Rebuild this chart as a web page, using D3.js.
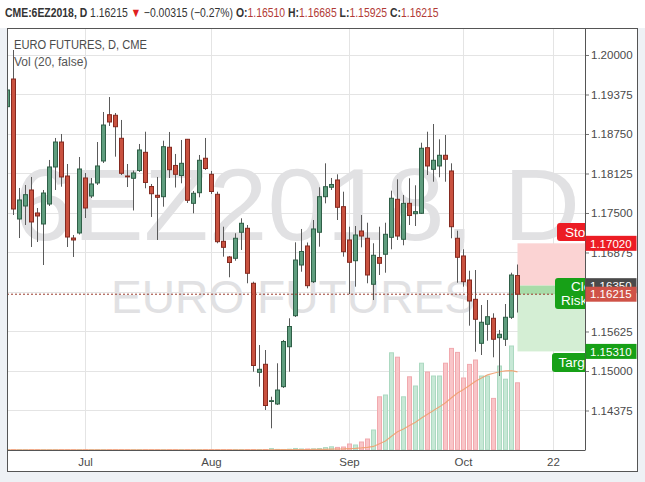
<!DOCTYPE html>
<html><head><meta charset="utf-8">
<script src="https://cdn.jsdelivr.net/npm/d3@7"></script>
<style>
html,body{margin:0;padding:0;background:#fff;}
svg{display:block;font-family:"Liberation Sans",Arial,sans-serif;}
</style></head><body>
<svg id="c" width="645" height="482"></svg>
<script>
// ---------------- DATA ----------------
const dates = [
"2018-06-13","2018-06-14","2018-06-15","2018-06-18","2018-06-19","2018-06-20","2018-06-21","2018-06-22","2018-06-25","2018-06-26","2018-06-27","2018-06-28","2018-06-29",
"2018-07-02","2018-07-03","2018-07-05","2018-07-06","2018-07-09","2018-07-10","2018-07-11","2018-07-12","2018-07-13","2018-07-16","2018-07-17","2018-07-18","2018-07-19","2018-07-20","2018-07-23","2018-07-24","2018-07-25","2018-07-26","2018-07-27","2018-07-30","2018-07-31",
"2018-08-01","2018-08-02","2018-08-03","2018-08-06","2018-08-07","2018-08-08","2018-08-09","2018-08-10","2018-08-13","2018-08-14","2018-08-15","2018-08-16","2018-08-17","2018-08-20","2018-08-21","2018-08-22","2018-08-23","2018-08-24","2018-08-27","2018-08-28","2018-08-29","2018-08-30","2018-08-31",
"2018-09-04","2018-09-05","2018-09-06","2018-09-07","2018-09-10","2018-09-11","2018-09-12","2018-09-13","2018-09-14","2018-09-17","2018-09-18","2018-09-19","2018-09-20","2018-09-21","2018-09-24","2018-09-25","2018-09-26","2018-09-27","2018-09-28",
"2018-10-01","2018-10-02","2018-10-03","2018-10-04","2018-10-05","2018-10-08","2018-10-09","2018-10-10","2018-10-11","2018-10-12"];
const futureDates = ["2018-10-15","2018-10-16","2018-10-17","2018-10-18","2018-10-19","2018-10-22","2018-10-23","2018-10-24","2018-10-25","2018-10-26"];

const open = [1.19182,1.19620,1.17405,1.17611,1.17864,1.17500,1.17326,1.17642,1.18228,1.18623,1.18085,1.17104,1.17184,
1.18054,1.17769,1.17975,1.18323,1.19055,1.19046,1.18682,1.18085,1.18049,1.18172,1.18460,1.17919,1.17780,1.17758,1.18540,1.18252,1.18093,1.18666,1.17653,1.17821,1.18366,
1.18112,1.17796,1.17052,1.16804,1.16783,1.17195,1.17258,1.16388,1.14979,1.15106,1.14530,1.14478,1.14752,1.15384,1.15875,1.16677,1.16978,1.16413,1.17195,1.17758,1.17907,1.18022,1.17600,
1.17073,1.16745,1.17215,1.17100,1.16372,1.16796,1.16847,1.17115,1.17717,1.17084,1.17653,1.17489,1.17495,1.18533,1.18191,1.18244,1.18413,1.18165,1.17100,
1.16820,1.16440,1.16134,1.15438,1.15739,1.15834,1.15527,1.15502,1.15850,1.16510];
const high = [1.19578,1.20079,1.17896,1.17943,1.18070,1.17579,1.17864,1.18339,1.18687,1.18750,1.18275,1.17152,1.18386,
1.18133,1.18054,1.18623,1.19098,1.19335,1.19082,1.18972,1.18275,1.18172,1.18592,1.18786,1.17959,1.18070,1.18644,1.18782,1.18434,1.18655,1.18671,1.17848,1.18418,1.18687,
1.18165,1.17837,1.17283,1.16820,1.17179,1.17416,1.17310,1.16413,1.15411,1.15332,1.14593,1.15122,1.15491,1.15834,1.17036,1.17247,1.17033,1.17389,1.17907,1.18286,1.18054,1.18112,1.17837,
1.17283,1.17294,1.17468,1.17346,1.17021,1.17283,1.17346,1.17853,1.18033,1.17785,1.18049,1.17938,1.18612,1.18786,1.18908,1.18666,1.18734,1.18286,1.17220,
1.16926,1.16587,1.16598,1.16044,1.16123,1.15913,1.15649,1.16060,1.16555,1.16685];
const low = [1.19051,1.17468,1.17104,1.17310,1.16962,1.17041,1.16677,1.17611,1.17864,1.17916,1.16962,1.16804,1.17160,
1.17421,1.17737,1.17943,1.18291,1.18877,1.18391,1.18101,1.17911,1.17540,1.18149,1.17891,1.17437,1.17073,1.17600,1.18054,1.17903,1.17970,1.17658,1.17495,1.17748,1.18180,
1.17801,1.17021,1.16809,1.16483,1.16745,1.16915,1.16388,1.14989,1.14752,1.14383,1.14093,1.14462,1.14731,1.14989,1.15854,1.16571,1.16308,1.16392,1.16967,1.17653,1.17864,1.17389,1.16809,
1.16218,1.16334,1.16957,1.16388,1.16123,1.16519,1.16555,1.16926,1.17073,1.16989,1.17310,1.17294,1.17484,1.18101,1.17995,1.18065,1.17995,1.17100,1.16397,
1.16334,1.15717,1.15305,1.15253,1.15479,1.15217,1.14921,1.15396,1.15823,1.15925];
const close = [1.19446,1.17563,1.17706,1.17790,1.17358,1.17453,1.17816,1.18228,1.18623,1.18070,1.17120,1.17073,1.18196,
1.17579,1.17959,1.18244,1.18892,1.18940,1.18865,1.18128,1.18077,1.18133,1.18497,1.17983,1.17805,1.17748,1.18549,1.18185,1.18112,1.18286,1.17701,1.17812,1.18334,1.18204,
1.17840,1.17046,1.16957,1.16717,1.17100,1.17337,1.16546,1.15087,1.15027,1.14454,1.14530,1.14699,1.15467,1.15704,1.16756,1.16891,1.16350,1.17247,1.17758,1.17916,1.17951,1.17590,1.16888,
1.16720,1.17152,1.17136,1.16519,1.16831,1.16704,1.17163,1.17733,1.17136,1.17653,1.17460,1.17521,1.18524,1.18244,1.18334,1.18413,1.18350,1.17283,1.16799,
1.16413,1.16108,1.15818,1.15771,1.15859,1.15502,1.15581,1.15850,1.16519,1.16215];
const volume = [300,450,350,300,320,280,300,260,300,310,330,290,350,
300,250,280,320,340,330,360,310,300,320,350,330,360,340,380,350,400,380,420,450,430,
460,500,480,520,550,600,640,800,900,1200,3500,1500,1300,2000,3800,2600,2500,2800,3500,6000,8000,6500,7500,
15000,12500,20000,27500,50000,133000,137500,243000,232000,133000,183000,160000,217000,195000,185000,185000,217000,254000,244000,
180000,214000,225000,185000,185000,129000,210000,177000,260000,168000];

const priceTicks = [1.14375,1.15000,1.15625,1.16250,1.16875,1.17500,1.18125,1.18750,1.19375,1.20000];
const timeTickDates = ["2018-07-02","2018-08-01","2018-09-04","2018-10-01","2018-10-22"];
const timeTickLabels = ["Jul","Aug","Sep","Oct","22"];
const lastPrice = 1.16215;
const entryPrice = 1.16350;
const stopPrice = 1.17020;
const targetPrice = 1.15310;
const volMaLength = 20;

// ---------------- LAYOUT ----------------
const P = {l:7, r:585, t:28, b:450};
const svg = d3.select("#c");
const allDates = dates.concat(futureDates);
const x = d3.scaleBand().domain(allDates).range([4.5, 4.5 + 6*allDates.length]).padding(0);
const xc = d => x(d) + x.bandwidth()/2;
const y = d3.scaleLinear().domain([1.13750, 1.20427]).range([P.b, P.t]);
const yv = d3.scaleLinear().domain([0, 400000]).range([P.b, P.b - 160]);

// backgrounds
svg.append("rect").attr("x",0).attr("y",0).attr("width",645).attr("height",482).attr("fill","#ffffff");
svg.append("rect").attr("x",0).attr("y",28).attr("width",645).attr("height",454).attr("fill","#eef1f5");
svg.append("rect").attr("x",7).attr("y",28).attr("width",631).attr("height",444).attr("fill","#ffffff");

const defs = svg.append("defs");
defs.append("clipPath").attr("id","plotclip").append("rect")
  .attr("x",P.l).attr("y",P.t).attr("width",P.r-P.l).attr("height",P.b-P.t);

const plot = svg.append("g").attr("clip-path","url(#plotclip)");

// grid
plot.append("g").selectAll("line").data(timeTickDates).join("line")
  .attr("x1",d=>xc(d)).attr("x2",d=>xc(d)).attr("y1",P.t).attr("y2",P.b)
  .attr("stroke","#e4e4e4").attr("stroke-width",1);
plot.append("g").selectAll("line").data(priceTicks).join("line")
  .attr("x1",P.l).attr("x2",P.r).attr("y1",d=>Math.round(y(d))+0.5).attr("y2",d=>Math.round(y(d))+0.5)
  .attr("stroke","#e4e4e4").attr("stroke-width",1);

// watermark
plot.append("text").attr("x",297).attr("y",240).attr("text-anchor","middle")
  .attr("font-size",102).attr("textLength",566).attr("lengthAdjust","spacingAndGlyphs")
  .attr("fill","#e1e1e3").text("6EZ2018, D");
plot.append("text").attr("x",293).attr("y",313).attr("text-anchor","middle")
  .attr("font-size",46).attr("textLength",364).attr("lengthAdjust","spacingAndGlyphs")
  .attr("fill","#e1e1e3").text("EURO FUTURES");

// volume
const idx = d3.range(dates.length);
plot.append("g").selectAll("rect").data(idx).join("rect")
  .attr("x",i=>xc(dates[i])-2.5+0.5).attr("width",4)
  .attr("y",i=>yv(volume[i])).attr("height",i=>P.b-yv(volume[i]))
  .attr("fill",i=>close[i]>=open[i] ? "#c7e8d6" : "#f9c5c8")
  .attr("stroke",i=>close[i]>=open[i] ? "#acd9c1" : "#f1a9ae").attr("stroke-width",1);
const ma = idx.map(i=>{ const s = Math.max(0,i-volMaLength+1); return d3.mean(volume.slice(s,i+1)); });
plot.append("path").datum(idx)
  .attr("d", d3.line().x(i=>xc(dates[i])).y(i=>yv(ma[i])))
  .attr("fill","none").attr("stroke","#f0a070").attr("stroke-width",1.2).attr("stroke-opacity",0.9);
plot.append("line").attr("x1",P.l).attr("x2",xc(dates[0])).attr("y1",yv(ma[0])).attr("y2",yv(ma[0]))
  .attr("stroke","#f0a070").attr("stroke-width",1.2);

// position tool zones
const zx = xc(dates[dates.length-1]);
plot.append("rect").attr("x",zx).attr("width",P.r-zx).attr("y",y(stopPrice)).attr("height",y(entryPrice)-y(stopPrice)).attr("fill","#fbd3d3");
plot.append("rect").attr("x",zx).attr("width",P.r-zx).attr("y",y(entryPrice)).attr("height",y(targetPrice)-y(entryPrice)).attr("fill","#d4eed4");
plot.append("rect").attr("x",zx).attr("width",P.r-zx).attr("y",y(entryPrice)).attr("height",y(lastPrice)-y(entryPrice)).attr("fill","#a9dca9");

// candles
const cg = plot.append("g");
cg.selectAll("line").data(idx).join("line")
  .attr("x1",i=>xc(dates[i])).attr("x2",i=>xc(dates[i]))
  .attr("y1",i=>y(high[i])).attr("y2",i=>y(low[i]))
  .attr("stroke","#5a5a5a").attr("stroke-width",1);
cg.selectAll("rect").data(idx).join("rect")
  .attr("x",i=>xc(dates[i])-2.5+0.5).attr("width",4)
  .attr("y",i=>y(Math.max(open[i],close[i])))
  .attr("height",i=>Math.max(0.8, Math.abs(y(open[i])-y(close[i]))))
  .attr("fill",i=>close[i]>=open[i] ? "#5f9d7e" : "#c9513f")
  .attr("stroke",i=>close[i]>=open[i] ? "#2f5f47" : "#852a20").attr("stroke-width",1);

// last price dotted line
plot.append("line").attr("x1",P.l).attr("x2",P.r).attr("y1",y(lastPrice)).attr("y2",y(lastPrice))
  .attr("stroke","#9a3b2c").attr("stroke-width",1).attr("stroke-dasharray","2,2");

// position labels (clipped by the price axis)
const sg = plot.append("g");
sg.append("rect").attr("x",557).attr("y",223).attr("width",120).attr("height",18).attr("rx",3).attr("fill","#ec1c24");
sg.append("text").attr("x",565).attr("y",236.5).attr("font-size",13.5).attr("fill","#fff").text("Stop: 67 (0.58%) Amount: 837.5");
const cgp = plot.append("g");
cgp.append("rect").attr("x",555).attr("y",278).attr("width",120).attr("height",31).attr("rx",3).attr("fill","#17a017");
cgp.append("text").attr("x",571).attr("y",291).attr("font-size",13.5).attr("fill","#fff").text("Closed P&L: 13.5, Qty: 1");
cgp.append("text").attr("x",561).attr("y",304.5).attr("font-size",13.5).attr("fill","#fff").text("Risk/Reward Ratio: 1.55");
const tg = plot.append("g");
tg.append("rect").attr("x",552).attr("y",353).attr("width",120).attr("height",19).attr("rx",3).attr("fill","#17a017");
tg.append("text").attr("x",558.5).attr("y",367).attr("font-size",13.5).attr("fill","#fff").text("Target: 104 (0.89%) Amount: 1300");

// axes
const yAxis = d3.axisRight(y).tickValues(priceTicks).tickFormat(d3.format(".5f")).tickSize(4).tickPadding(2);
const ya = svg.append("g").attr("transform",`translate(${P.r},0)`).call(yAxis);
ya.select(".domain").remove();
ya.selectAll("line").attr("stroke","#777");
ya.selectAll("text").attr("fill","#4a4a4a").attr("font-size",11.5).attr("font-family","Liberation Sans, Arial, sans-serif");

const xAxis = d3.axisBottom(x).tickValues(timeTickDates).tickFormat((d,i)=>timeTickLabels[i]).tickSize(0).tickPadding(8);
const xa = svg.append("g").attr("transform",`translate(0,${P.b})`).call(xAxis);
xa.select(".domain").remove();
xa.selectAll("text").attr("fill","#4a4a4a").attr("font-size",11.5).attr("font-family","Liberation Sans, Arial, sans-serif");

// axis lines
svg.append("line").attr("x1",P.r+0.5).attr("x2",P.r+0.5).attr("y1",P.t).attr("y2",P.b).attr("stroke","#555");
svg.append("line").attr("x1",P.l).attr("x2",P.r+0.5).attr("y1",P.b+0.5).attr("y2",P.b+0.5).attr("stroke","#555");

// price label boxes
function priceBox(p, fill){
  const cy = y(p);
  svg.append("rect").attr("x",P.r+0.5).attr("y",cy-7.5).attr("width",51).attr("height",15).attr("fill",fill);
  svg.append("text").attr("x",P.r+5).attr("y",cy+4.2).attr("font-size",11.5).attr("fill","#fff").text(d3.format(".5f")(p));
}
priceBox(entryPrice, "#4a4a4a");
priceBox(lastPrice, "#cf5247");
priceBox(stopPrice, "#ec1c24");
priceBox(targetPrice, "#17a017");

// frame
svg.append("rect").attr("x",7.5).attr("y",28.5).attr("width",630).attr("height",443)
  .attr("fill","none").attr("stroke","#555").attr("stroke-width",1);

// legend
svg.append("text").attr("x",14).attr("y",49).attr("font-size",12.5).attr("textLength",133).attr("lengthAdjust","spacingAndGlyphs")
  .attr("fill","#4a4a4a").text("EURO FUTURES, D, CME");
svg.append("text").attr("x",14).attr("y",65.5).attr("font-size",12).attr("fill","#555").text("Vol (20, false)");

// header (horizontally scaled to the reference width)
const hg = svg.append("g");
const ht = hg.append("text").attr("x",0).attr("y",0).attr("font-size",12.5).attr("fill","#333");
const red = "#b23a35";
[["CME:6EZ2018, D ","bold","#333"],["1.16215 ","normal","#333"],["▼ ","normal","#e02020"],["−0.00315 (−0.27%) ","normal","#333"],
 ["O:","bold","#333"],["1.16510 ","normal",red],["H:","bold","#333"],["1.16685 ","normal",red],
 ["L:","bold","#333"],["1.15925 ","normal",red],["C:","bold","#333"],["1.16215","normal",red]]
 .forEach(([t,w,c])=>ht.append("tspan").attr("font-weight",w).attr("fill",c).text(t));
const hw = ht.node().getComputedTextLength() || 500;
hg.attr("transform",`translate(5,16.5) scale(${434/hw},1)`);
</script>
</body></html>
